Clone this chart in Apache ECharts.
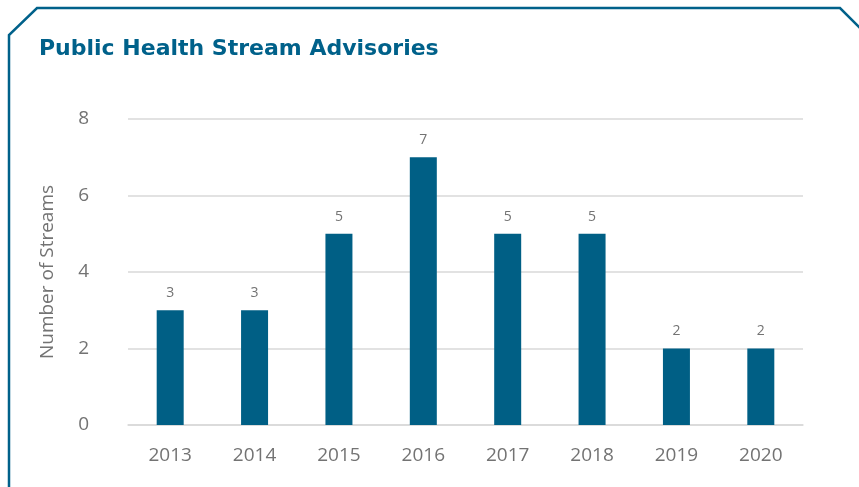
<!DOCTYPE html>
<html>
<head>
<meta charset="utf-8">
<script src="https://cdn.jsdelivr.net/npm/echarts@6/dist/echarts.min.js"></script>
<style>
html,body{margin:0;padding:0;background:#fff;}
#chart{width:859px;height:487px;}
</style>
</head>
<body>
<div id="chart"></div>
<script>
const categories = ['2013','2014','2015','2016','2017','2018','2019','2020'];
const streams = [3,3,5,7,5,5,2,2];
const yTicks = [0,2,4,6,8];

const chart = echarts.init(document.getElementById('chart'));
const blue = '#005f85';
const gray = '#737373';
chart.setOption({
  animation: false,
  backgroundColor: '#fff',
  title: {
    text: 'Public Health Stream Advisories',
    left: 34, top: 33,
    textStyle: {fontFamily: 'DejaVu Sans', fontWeight: 'bold', fontSize: 22, color: '#00618a'}
  },
  graphic: [{
    type: 'polyline',
    shape: {points: [[9,487],[9,35],[37,8],[840,8],[861,29]]},
    style: {stroke: '#00618a', lineWidth: 2.5, fill: null}
  }],
  grid: {left: 128, right: 56, top: 119, bottom: 62},
  xAxis: {
    type: 'category',
    data: categories,
    axisTick: {show: false},
    axisLine: {lineStyle: {color: '#d9d9d9', width: 1.5}},
    axisLabel: {color: gray, fontFamily: 'Open Sans', fontSize: 19, margin: 21}
  },
  yAxis: {
    type: 'value',
    min: yTicks[0], max: yTicks[yTicks.length-1], interval: 2,
    name: 'Number of Streams',
    nameLocation: 'middle',
    nameGap: 71,
    nameRotate: 90,
    nameTextStyle: {color: gray, fontFamily: 'Open Sans', fontSize: 19},
    axisLine: {show: false},
    axisTick: {show: false},
    splitLine: {lineStyle: {color: '#d9d9d9', width: 1.5}},
    axisLabel: {color: gray, fontFamily: 'Open Sans', fontSize: 19, margin: 39, padding: [5,0,0,0]}
  },
  series: [{
    type: 'bar',
    data: streams,
    barWidth: 27,
    itemStyle: {color: blue},
    label: {show: true, position: 'top', distance: 10, color: gray, fontFamily: 'Open Sans', fontSize: 14}
  }]
});
</script>
</body>
</html>
